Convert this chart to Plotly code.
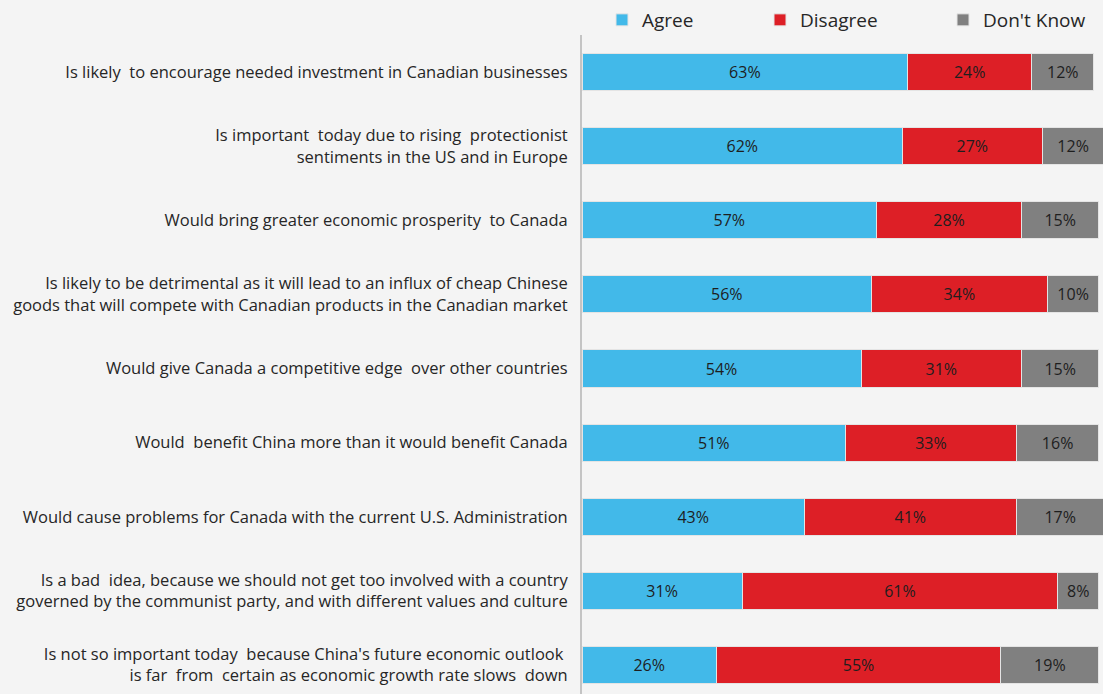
import plotly.graph_objects as go

categories = [
    "Is likely  to encourage needed investment in Canadian businesses",
    "Is important  today due to rising  protectionist<br>sentiments in the US and in Europe",
    "Would bring greater economic prosperity  to Canada",
    "Is likely to be detrimental as it will lead to an influx of cheap Chinese<br>goods that will compete with Canadian products in the Canadian market",
    "Would give Canada a competitive edge  over other countries",
    "Would  benefit China more than it would benefit Canada",
    "Would cause problems for Canada with the current U.S. Administration",
    "Is a bad  idea, because we should not get too involved with a country<br>governed by the communist party, and with different values and culture",
    "Is not so important today  because China's future economic outlook <br>is far  from  certain as economic growth rate slows  down",
]
agree = [63, 62, 57, 56, 54, 51, 43, 31, 26]
disagree = [24, 27, 28, 34, 31, 33, 41, 61, 55]
dont_know = [12, 12, 15, 10, 15, 16, 17, 8, 19]

series = [
    ("Agree", agree, "#42b9e9", "legend"),
    ("Disagree", disagree, "#dd1f26", "legend2"),
    ("Don't Know", dont_know, "#808080", "legend3"),
]

FONT = "Open Sans"
fig = go.Figure()
for name, vals, color, leg in series:
    fig.add_trace(go.Bar(
        y=categories, x=vals, name=name, orientation="h",
        marker=dict(color=color, line=dict(color="#e4e4e4", width=1)),
        text=[f"{v}%" for v in vals], textposition="inside",
        insidetextanchor="middle", textangle=0, constraintext="none",
        textfont=dict(family=FONT, size=16, color="#1e1e1e"),
        legend=leg, showlegend=True, hoverinfo="x+y",
    ))

W, H = 1103, 694
L, T = 582, 35
pw = W - L

def lx(px):
    return (px - L) / pw

legend_common = dict(orientation="h", yanchor="middle", y=1 + (T - 20) / (H - T),
                     xanchor="left", bgcolor="rgba(0,0,0,0)",
                     font=dict(family=FONT, size=19, color="#262626"))
fig.update_layout(
    width=W, height=H,
    barmode="stack", bargap=0.5,
    showlegend=True,
    paper_bgcolor="#f4f4f4", plot_bgcolor="#f4f4f4",
    margin=dict(l=L, r=0, t=T, b=0, pad=0),
    font=dict(family=FONT, size=16, color="#262626"),
    legend=dict(**legend_common, x=lx(602)),
    legend2=dict(**legend_common, x=lx(760)),
    legend3=dict(**legend_common, x=lx(943)),
    xaxis=dict(range=[0, 100.78], visible=False, fixedrange=True),
    yaxis=dict(categoryorder="array", categoryarray=categories,
               range=[8.392, -0.5], showline=True, linecolor="#c4c4c4",
               linewidth=2, showgrid=False, zeroline=False, ticks="",
               ticklabelstandoff=9, fixedrange=True,
               tickfont=dict(family=FONT, size=16.5, color="#262626")),
)
fig.write_html("out.html", config={"displayModeBar": False},
               post_script="document.body.style.margin='0';")
